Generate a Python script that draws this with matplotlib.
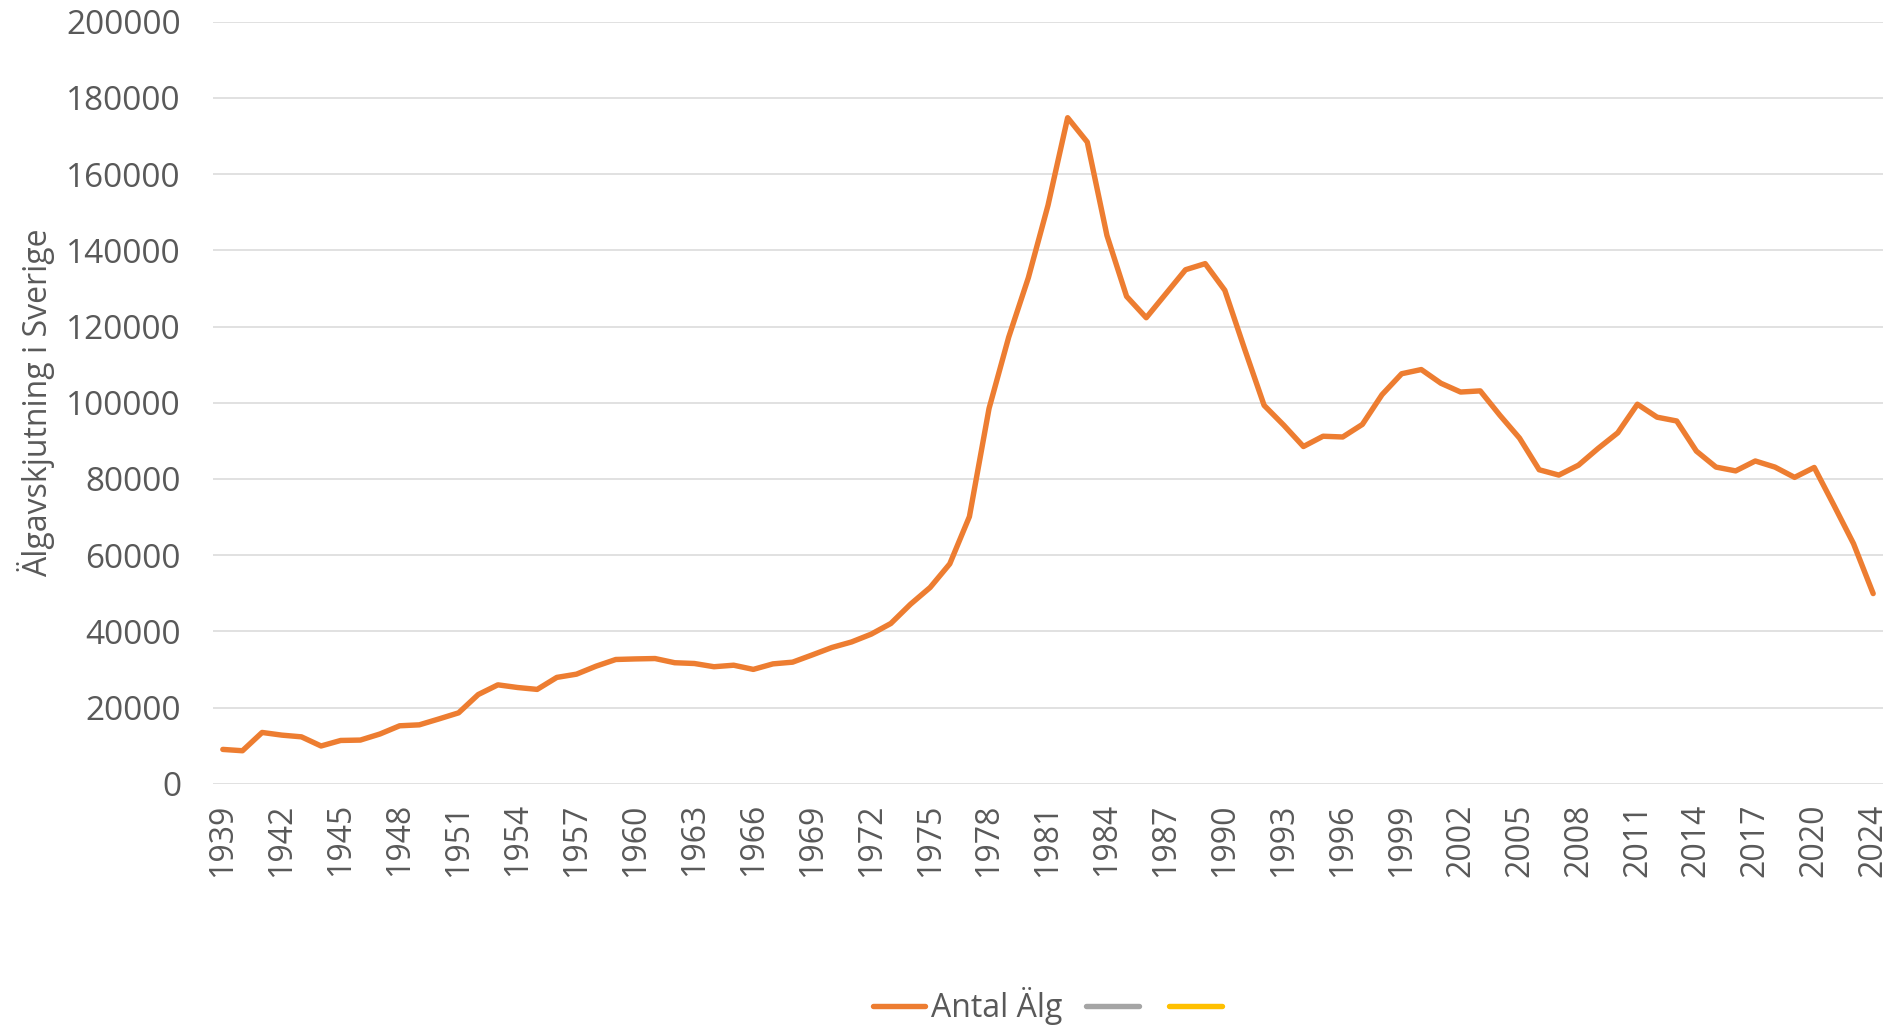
import matplotlib
matplotlib.use("Agg")
import matplotlib.pyplot as plt
from matplotlib.lines import Line2D

years = list(range(1939, 2023)) + [2024]
antal_alg = [
    9000, 8650, 13450, 12750, 12300, 9900, 11350, 11450, 13050, 15200,
    15450, 17000, 18600, 23400, 25950, 25250, 24750, 27900, 28750, 30850,
    32600, 32750, 32850, 31750, 31550, 30700, 31100, 30000, 31450, 31900,
    33800, 35750, 37200, 39250, 42050, 47100, 51500, 57700, 70100, 98500,
    117200, 132800, 151800, 174800, 168400, 143900, 127900, 122300, 128600, 134900,
    136500, 129500, 114200, 99300, 94100, 88500, 91200, 91000, 94300, 102100,
    107600, 108700, 105100, 102800, 103100, 96700, 90700, 82400, 81000, 83600,
    88000, 92100, 99600, 96200, 95200, 87300, 83100, 82100, 84700, 83100,
    80400, 83000, 73100, 63000, 49900,
]
y_ticks = list(range(0, 200001, 20000))
series_labels = ["Antal Älg", "", ""]
ylabel = "Älgavskjutning i Sverige"

plt.rcParams['font.family'] = ['Open Sans', 'DejaVu Sans']
TXT = "#595959"
ORANGE = "#ED7D31"
GRAY = "#A5A5A5"
YELLOW = "#FFC000"

fig = plt.figure(figsize=(18.93, 10.25), dpi=100)
ax = fig.add_axes([213/1893, 1-783.7/1025, (1883-213)/1893, (783.7-21.7)/1025])

x = list(range(len(years)))
ax.plot(x, antal_alg, color=ORANGE, lw=3.9, solid_joinstyle='round', solid_capstyle='round', zorder=3)

ax.set_xlim(-0.5, len(years) - 0.5)
ax.set_ylim(0, 200000)
ax.set_yticks(y_ticks)
ax.set_yticklabels([str(v) for v in y_ticks])
ax.yaxis.grid(True, color="#D9D9D9", lw=1.1)
ax.set_axisbelow(True)

tick_idx = list(range(0, len(years), 3))
ax.set_xticks(tick_idx)
ax.set_xticklabels([str(years[i]) for i in tick_idx], rotation=90)

for s in ax.spines.values():
    s.set_visible(False)
ax.tick_params(axis='both', length=0, labelsize=23, colors=TXT)
ax.tick_params(axis='y', pad=23, labelsize=24)
ax.tick_params(axis='x', pad=14)

ax.set_ylabel(ylabel, fontsize=23, color=TXT)
ax.yaxis.set_label_coords(-0.0946, 0.5)

handles = [Line2D([], [], color=c, lw=3.9, solid_capstyle='round') for c in (ORANGE, GRAY, YELLOW)]
leg = fig.legend(handles, series_labels, loc='center', bbox_to_anchor=(1050/1893, 1-1006/1025),
                 ncol=3, frameon=False, fontsize=23, handlelength=1.65, handletextpad=0.18,
                 columnspacing=0.75, labelcolor=TXT)

fig.savefig("out.png", dpi=100, facecolor="white")
